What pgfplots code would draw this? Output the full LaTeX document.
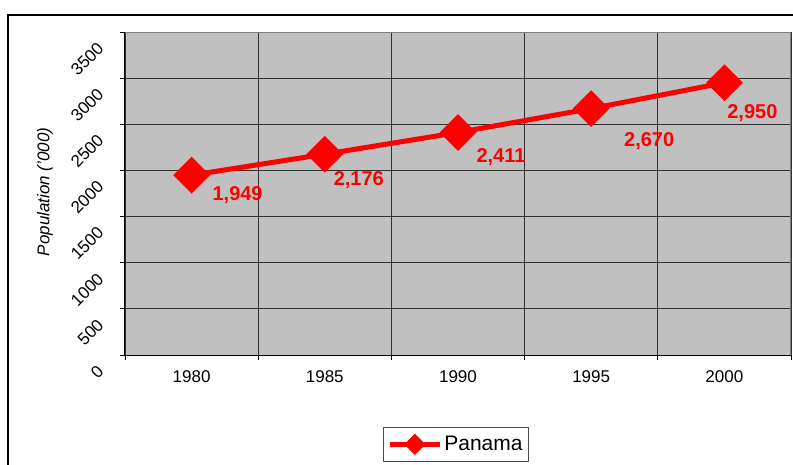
\documentclass[border=0pt]{standalone}
\usepackage{fontspec}
\setmainfont{Liberation Sans}
\usepackage{pgfplots}
\pgfplotsset{compat=1.18}
\definecolor{plotgray}{HTML}{C0C0C0}
\definecolor{gridgray}{HTML}{303030}
\definecolor{framegray}{HTML}{808080}

\pgfplotstableread{
x y dx dy
1 1949 46 -20
2 2176 34 -26
3 2411 43 -25
4 2670 58 -32
5 2950 28 -30
}\panama

\begin{document}
\begin{tikzpicture}
\useasboundingbox (0,0) rectangle (793pt,464pt);
% chart area frame (runs past the page on right and bottom)
\draw[black, line width=1.5pt] (8pt,449pt) rectangle (830pt,-30pt);
\begin{axis}[
    at={(125pt,109pt)}, anchor=south west,
    width=666pt, height=323pt, scale only axis,
    xmin=0.5, xmax=5.5,
    ymin=0, ymax=3500,
    xtick={1,2,3,4,5},
    xticklabels={1980,1985,1990,1995,2000},
    minor xtick={0.5,1.5,2.5,3.5,4.5,5.5},
    ytick={0,500,...,3500},
    xtick pos=bottom, ytick pos=left,
    tick align=outside,
    major tick length=5pt, minor tick length=5pt,
    major x tick style={draw=none},
    tick style={black, line width=0.8pt},
    ymajorgrids, xminorgrids,
    major grid style={gridgray, line width=0.8pt},
    minor grid style={gridgray, line width=0.8pt},
    axis line style={framegray, line width=1pt},
    axis background/.style={fill=plotgray},
    /pgf/number format/1000 sep={},
    /pgf/number format/assume math mode=true,
    tick label style={font=\fontsize{17}{17}\selectfont},
    xticklabel style={yshift=-7pt},
    yticklabel style={xshift=-17pt, yshift=-11pt, rotate=45, anchor=east},
    ylabel={Population ('000)},
    ylabel style={at={(axis description cs:-0.12,0.505)}, anchor=center,
        font=\itshape\fontsize{17}{17}\selectfont},
    legend style={at={(axis description cs:0.497,-0.223)}, anchor=north,
        draw=black!70, fill=white, line width=0.8pt,
        font=\fontsize{21}{21}\selectfont, inner xsep=4pt, inner ysep=7pt},
    legend image code/.code={
        \draw[#1, mark repeat=2, mark phase=2, mark size=5pt, line width=5pt]
            plot coordinates {(0pt,0pt) (25pt,0pt) (50pt,0pt)};},
    after end axis/.code={
        \draw[black, line width=1pt] (rel axis cs:0,1) -- (rel axis cs:0,0) -- (rel axis cs:1,0);},
]
\addplot[red, line width=5pt, mark=square*, mark size=10.5pt,
    mark options={rotate=45, solid},
    visualization depends on={\thisrow{dx} \as \dx},
    visualization depends on={\thisrow{dy} \as \dy},
    nodes near coords={\pgfmathprintnumber[1000 sep={,}]{\pgfplotspointmeta}},
    nodes near coords style={anchor=center, xshift=\dx pt, yshift=\dy pt,
        text=red, font=\bfseries\fontsize{20}{20}\selectfont},
    point meta=y]
    table[x=x, y=y] {\panama};
\addlegendentry{Panama}
\end{axis}
\end{tikzpicture}
\end{document}
